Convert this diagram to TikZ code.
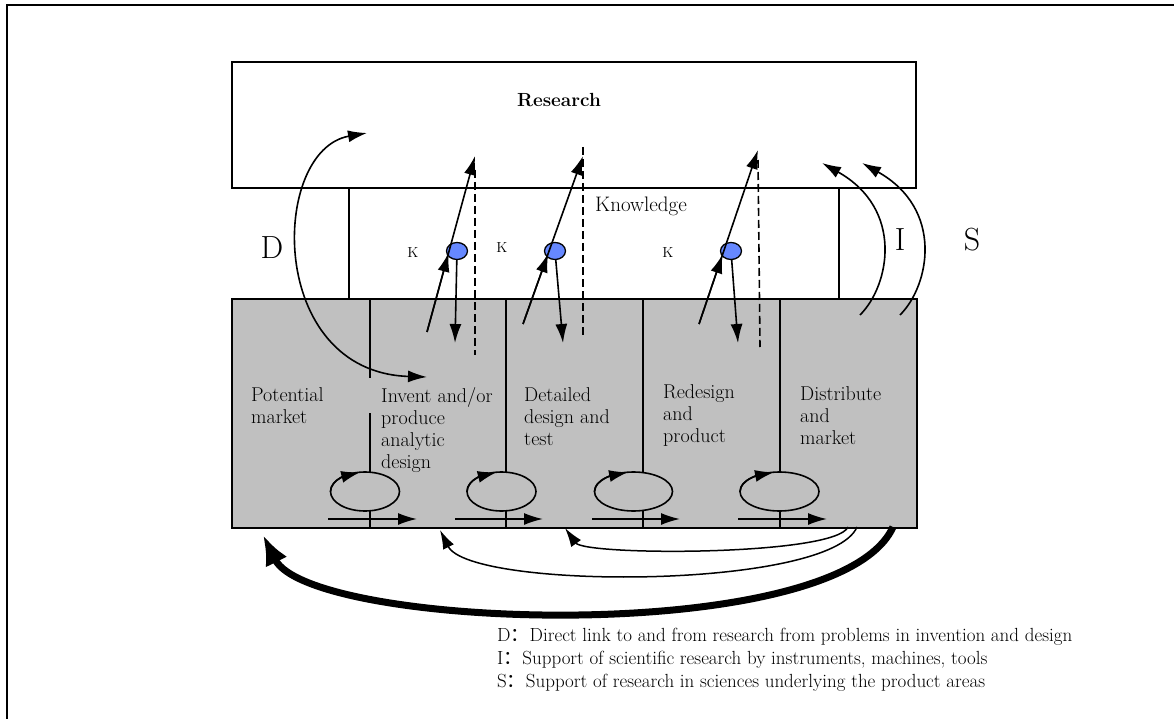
\documentclass[tikz,border=0pt]{standalone}
\usepackage{fontspec}
\newfontfamily\cjk{Noto Sans CJK SC}
\usepackage{tikz}
\usetikzlibrary{shapes,arrows,arrows.meta,bending}
\usetikzlibrary{positioning,calc}
\definecolor{stagegray}{RGB}{192,192,192}
\definecolor{knowblue}{RGB}{102,136,255}

\begin{document}
\begin{tikzpicture}[
    x=1pt, y=-1pt,
    every node/.style={font=\fontsize{20}{22}\selectfont, inner sep=0pt},
    block/.style={rectangle, draw, line width=1.7pt},
    stage/.style={align=left, anchor=north west},
    kdot/.style={ellipse, draw, line width=1.3pt, fill=knowblue, minimum width=21pt, minimum height=17pt},
    iterloop/.style={ellipse, draw, line width=1.6pt, fill=stagegray, minimum height=39pt},
    arrow/.style={draw, line width=1.6pt, -{Latex[length=19pt,width=12pt,quick]}},
    looparrow/.style={draw, line width=1.6pt, -{Latex[length=19pt,width=12pt]}},
    dashline/.style={draw, line width=1.6pt, dash pattern=on 8pt off 4pt},
    bigletter/.style={font=\fontsize{32}{36}\selectfont},
    klabel/.style={font=\fontsize{14.5}{16}\selectfont},
    note/.style={anchor=west, font=\fontsize{19}{20}\selectfont}
  ]

\useasboundingbox (0,0) rectangle (1174,719);
\draw[line width=2.5pt] (7,719) -- (7,5) -- (1174,5);

% Nodes
\node[block, minimum width=684pt, minimum height=126pt] (research) at (574,125) {};
\node[font=\fontsize{19}{22}\selectfont\bfseries] (restitle) at (559,100) {Research};
\node[block, minimum width=490pt, minimum height=111pt] (know) at (594,243.5) {};
\node[anchor=west, font=\fontsize{21}{22}\selectfont] (knowtitle) at (595,206) {Knowledge};
\node[block, fill=stagegray, minimum width=685pt, minimum height=229pt] (stages) at (574.5,413.5) {};

% dividers
\foreach \x in {506,643,780}
  \draw[line width=1.7pt] (\x,299) -- (\x,528);
\draw[line width=1.7pt] (370,299) -- (370,378) (370,413) -- (370,528);

\node[stage] (market) at (251,387) {Potential\\market};
\node[stage] (invent) at (381,387) {Invent and/or\\produce\\analytic\\design};
\node[stage] (detail) at (524,387) {Detailed\\design and\\test};
\node[stage] (redesign) at (663,384) {Redesign\\and\\product};
\node[stage] (distrib) at (800,386) {Distribute\\and\\market};

\node[iterloop, minimum width=69pt] (loop1) at (365,491.5) {};
\node[iterloop, minimum width=69pt] (loop2) at (501.5,491.5) {};
\node[iterloop, minimum width=78pt] (loop3) at (633.5,491.5) {};
\node[iterloop, minimum width=79pt] (loop4) at (779.5,491.5) {};
\foreach \i/\r in {1/34.5,2/34.5,3/39,4/39.5}
  \draw[looparrow] (loop\i.center) ++(-180:\r pt and 19.5pt)
    arc[start angle=-180, end angle=-98, x radius=\r, y radius=19.5];

\foreach \i/\a/\b in {1/328/417, 2/455/543, 3/592/680, 4/738/827} {
  \coordinate (h\i a) at (\a,519);
  \coordinate (h\i b) at (\b,519);
  \draw[arrow] (h\i a) -- (h\i b);
}

\node[kdot] (k1) at (457,251) {};
\node[kdot] (k2) at (555,251) {};
\node[kdot] (k3) at (731,251) {};
\node[klabel] (kl1) at (413,253) {K};
\node[klabel] (kl2) at (502,248) {K};
\node[klabel] (kl3) at (668,253) {K};

\node[bigletter] (dlab) at (272,248) {D};
\node[bigletter] (ilab) at (900,240) {I};
\node[bigletter] (slab) at (972,240) {S};

\coordinate (u1s) at (427,332); \coordinate (u1e) at (475,156);
\coordinate (u2s) at (523,324); \coordinate (u2e) at (583,156);
\coordinate (u3s) at (699,324); \coordinate (u3e) at (758,150);
\coordinate (u1m) at ($(u1s)!0.45!(u1e)$);
\coordinate (u2m) at ($(u2s)!0.42!(u2e)$);
\coordinate (u3m) at ($(u3s)!0.40!(u3e)$);
\coordinate (d1) at (455,343);
\coordinate (d2) at (563,343);
\coordinate (d3) at (738,343);
\coordinate (q1a) at (475,170); \coordinate (q1b) at (475,355);
\coordinate (q2a) at (583,147); \coordinate (q2b) at (583,338);
\coordinate (q3a) at (758,160); \coordinate (q3b) at (760,347);

% Arrows
\foreach \i in {1,2,3} {
  \draw[arrow] (u\i s) -- (u\i m);
  \draw[arrow] (u\i s) -- (u\i e);
  \draw[arrow] (k\i) -- (d\i);
  \draw[dashline] (q\i a) -- (q\i b);
}

\coordinate (dA) at (427,377);
\coordinate (dB) at (367,133);
\draw[arrow, {Latex[length=19pt,width=12pt,quick]}-{Latex[length=19pt,width=12pt,quick]}]
  (dA) .. controls (266,372) and (270,150) .. (dB);

\coordinate (iA) at (860,315); \coordinate (iB) at (822,163);
\coordinate (sA) at (900,315); \coordinate (sB) at (862,163);
\draw[arrow] (iA) .. controls (890,285) and (904,209) .. (iB);
\draw[arrow] (sA) .. controls (930,285) and (944,209) .. (sB);

\coordinate (lA) at (893,527); \coordinate (lB) at (263,535);
\coordinate (mA) at (857,527); \coordinate (mB) at (440,530);
\coordinate (nA) at (848,527); \coordinate (nB) at (565,528);
\draw[line width=7pt, -{Latex[length=30pt,width=24pt,quick]}]
  (lA) .. controls (838,648) and (310,630) .. (lB);
\draw[line width=1.5pt, -{Latex[length=19pt,width=12pt,quick]}]
  (mA) .. controls (830,590) and (470,590) .. (mB);
\draw[line width=1.5pt, -{Latex[length=19pt,width=12pt,quick]}]
  (nA) .. controls (835,556) and (585,556) .. (nB);

\node[note] (noted) at (497,637) {D{\cjk ：}Direct link to and from research from problems in invention and design};
\node[note] (notei) at (497,660) {I{\cjk ：}Support of scientific research by instruments, machines, tools};
\node[note] (notes) at (497,683) {S{\cjk ：}Support of research in sciences underlying the product areas};

\end{tikzpicture}
\end{document}
